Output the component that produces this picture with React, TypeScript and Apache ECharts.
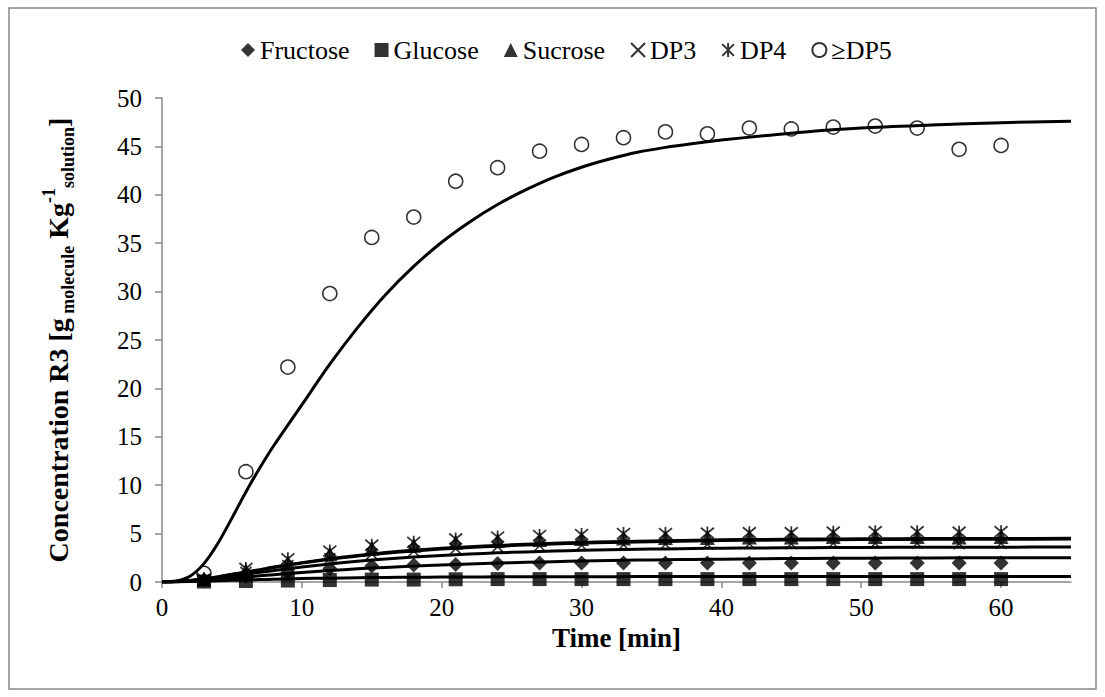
import React, { useEffect, useRef } from "react";
import * as echarts from "echarts";

// ---- Data ----
const timeMin = [3, 6, 9, 12, 15, 18, 21, 24, 27, 30, 33, 36, 39, 42, 45, 48, 51, 54, 57, 60];
const fructose = [0.2, 0.6, 1.0, 1.4, 1.65, 1.75, 1.8, 1.9, 1.95, 1.95, 1.95, 1.95, 1.95, 1.95, 1.95, 1.95, 1.95, 1.95, 1.95, 1.95];
const glucose = [0.05, 0.1, 0.15, 0.2, 0.25, 0.25, 0.28, 0.3, 0.3, 0.3, 0.3, 0.3, 0.3, 0.3, 0.3, 0.3, 0.3, 0.3, 0.3, 0.3];
const sucrose = [0.3, 1.2, 2.0, 2.9, 3.5, 3.8, 4.1, 4.3, 4.4, 4.5, 4.55, 4.6, 4.6, 4.65, 4.65, 4.7, 4.7, 4.7, 4.65, 4.7];
const dp3 = [0.2, 1.0, 1.7, 2.4, 2.9, 3.2, 3.45, 3.65, 3.75, 3.8, 3.85, 3.9, 3.9, 3.95, 3.95, 4.0, 4.0, 4.0, 3.95, 4.0];
const dp4 = [0.3, 1.4, 2.4, 3.2, 3.8, 4.1, 4.45, 4.65, 4.8, 4.9, 5.0, 5.0, 5.05, 5.1, 5.1, 5.15, 5.2, 5.2, 5.15, 5.2];
const dp5 = [0.9, 11.4, 22.2, 29.8, 35.6, 37.7, 41.4, 42.8, 44.5, 45.2, 45.9, 46.5, 46.3, 46.9, 46.8, 47.0, 47.1, 46.9, 44.7, 45.1];

const modelTime = [0, 1, 2, 3, 4, 5, 6, 7, 8, 10, 12, 14, 16, 18, 20, 22, 24, 26, 28, 30, 32, 34, 36, 38, 40, 43, 46, 50, 55, 60, 65];
const fructoseModel = [0, 0.02, 0.08, 0.17, 0.28, 0.4, 0.52, 0.64, 0.76, 0.98, 1.18, 1.36, 1.51, 1.64, 1.76, 1.86, 1.95, 2.03, 2.1, 2.16, 2.21, 2.26, 2.3, 2.33, 2.36, 2.4, 2.43, 2.46, 2.49, 2.5, 2.51];
const glucoseModel = [0, 0.01, 0.04, 0.08, 0.12, 0.17, 0.21, 0.25, 0.29, 0.35, 0.4, 0.44, 0.47, 0.49, 0.51, 0.52, 0.53, 0.54, 0.55, 0.55, 0.55, 0.56, 0.56, 0.56, 0.56, 0.56, 0.56, 0.56, 0.56, 0.56, 0.56];
const sucroseModel = [0, 0.04, 0.15, 0.32, 0.53, 0.77, 1.0, 1.25, 1.5, 1.95, 2.35, 2.68, 2.97, 3.2, 3.4, 3.56, 3.7, 3.82, 3.92, 4.01, 4.08, 4.14, 4.19, 4.24, 4.28, 4.32, 4.35, 4.38, 4.41, 4.42, 4.43];
const dp3Model = [0, 0.03, 0.12, 0.26, 0.43, 0.62, 0.81, 1.0, 1.19, 1.55, 1.87, 2.14, 2.38, 2.58, 2.75, 2.89, 3.01, 3.11, 3.2, 3.27, 3.33, 3.38, 3.42, 3.46, 3.49, 3.52, 3.55, 3.57, 3.59, 3.6, 3.61];
const dp4Model = [0, 0.04, 0.15, 0.33, 0.55, 0.79, 1.03, 1.28, 1.54, 2.0, 2.4, 2.74, 3.04, 3.28, 3.48, 3.64, 3.78, 3.9, 4.0, 4.09, 4.16, 4.22, 4.27, 4.32, 4.36, 4.4, 4.43, 4.46, 4.49, 4.5, 4.51];
const dp5Model = [0, 0.1, 0.6, 1.9, 4.0, 6.6, 9.3, 11.8, 14.1, 18.3, 22.5, 26.3, 29.7, 32.6, 35.1, 37.2, 39.0, 40.5, 41.8, 42.85, 43.7, 44.4, 44.9, 45.3, 45.65, 46.1, 46.5, 46.9, 47.2, 47.45, 47.6];

const xTicks = [0, 10, 20, 30, 40, 50, 60];

const SERIF = "Liberation Serif, Times New Roman, serif";
const X_PATH = "path://M0,0L10,10M10,0L0,10";
const STAR_PATH = "path://M0,0L10,10M10,0L0,10M5,-1L5,11";

const pairs = (xs: number[], ys: number[]) => xs.map((x, i) => [x, ys[i]]);

export default function App() {
  const ref = useRef<HTMLDivElement>(null);

  useEffect(() => {
    if (!ref.current) return;
    const chart = echarts.init(ref.current, undefined, { renderer: "svg" });

    const scatterDefs = [
      { name: "Fructose", data: fructose, symbol: "diamond", size: 15, style: { color: "#000" } },
      { name: "Glucose", data: glucose, symbol: "rect", size: 14, style: { color: "#000" } },
      { name: "Sucrose", data: sucrose, symbol: "triangle", size: 15, style: { color: "#000" } },
      { name: "DP3", data: dp3, symbol: X_PATH, size: 11, style: { color: "#000", borderColor: "#000", borderWidth: 1.6 } },
      { name: "DP4", data: dp4, symbol: STAR_PATH, size: 13, style: { color: "#000", borderColor: "#000", borderWidth: 1.8 } },
      { name: "\u2265DP5", data: dp5, symbol: "circle", size: 14, style: { color: "rgba(0,0,0,0)", borderColor: "#000", borderWidth: 1.6 } },
    ];
    const modelDefs = [
      { name: "Fructose model", data: fructoseModel },
      { name: "Glucose model", data: glucoseModel },
      { name: "Sucrose model", data: sucroseModel },
      { name: "DP3 model", data: dp3Model },
      { name: "DP4 model", data: dp4Model },
      { name: "DP5 model", data: dp5Model },
    ];

    const series: any[] = [
      ...modelDefs.map((m) => ({
        name: m.name,
        type: "line",
        data: pairs(modelTime, m.data),
        smooth: 0.3,
        showSymbol: false,
        symbol: "none",
        lineStyle: { color: "#000", width: 3 },
        z: 2,
        silent: true,
      })),
      ...scatterDefs.map((s) => ({
        name: s.name,
        type: "scatter",
        data: pairs(timeMin, s.data),
        symbol: s.symbol,
        symbolSize: s.size,
        itemStyle: s.style,
        z: 3,
      })),
    ];

    chart.setOption({
      animation: false,
      backgroundColor: "#fff",
      textStyle: { fontFamily: SERIF, color: "#000" },
      graphic: [
        {
          type: "rect",
          shape: { x: 9, y: 8, width: 1087, height: 681 },
          style: { fill: "none", stroke: "#888", lineWidth: 1.5 },
          silent: true,
        },
      ],
      legend: {
        data: scatterDefs.map((s) => s.name),
        left: 236,
        top: 32,
        itemWidth: 14,
        itemHeight: 14,
        itemGap: 25,
        textStyle: { fontFamily: SERIF, fontSize: 26, color: "#000" },
      },
      grid: { left: 162, top: 98, width: 909, height: 484, containLabel: false },
      xAxis: {
        type: "value",
        min: 0,
        max: 65,
        name: "Time [min]",
        nameLocation: "middle",
        nameGap: 40,
        nameTextStyle: { fontFamily: SERIF, fontSize: 27, fontWeight: "bold", color: "#000" },
        axisLine: { show: true, lineStyle: { color: "#888", width: 1.5 } },
        axisTick: { show: true, customValues: xTicks, length: 6, lineStyle: { color: "#888", width: 1.5 } },
        axisLabel: { customValues: xTicks, fontFamily: SERIF, fontSize: 25, color: "#000", margin: 13 },
        splitLine: { show: false },
      },
      yAxis: {
        type: "value",
        min: 0,
        max: 50,
        interval: 5,
        name:
          "{m|Concentration R3 [g}{sub| molecule}{m| Kg}{sup|-1}{sub|solution}{m|]}",
        nameLocation: "middle",
        nameGap: 85,
        nameRotate: 90,
        nameTextStyle: {
          fontFamily: SERIF,
          color: "#000",
          rich: {
            m: { fontFamily: SERIF, fontSize: 28, fontWeight: "bold", color: "#000", lineHeight: 37, verticalAlign: "middle" },
            sub: { fontFamily: SERIF, fontSize: 18, fontWeight: "bold", color: "#000", lineHeight: 18, verticalAlign: "bottom" },
            sup: { fontFamily: SERIF, fontSize: 18, fontWeight: "bold", color: "#000", lineHeight: 18, verticalAlign: "top" },
          },
        },
        axisLine: { show: true, lineStyle: { color: "#888", width: 1.5 } },
        axisTick: { show: true, length: 7, lineStyle: { color: "#888", width: 1.5 } },
        axisLabel: { fontFamily: SERIF, fontSize: 25, color: "#000", margin: 20 },
        splitLine: { show: false },
      },
      series,
    });

    return () => chart.dispose();
  }, []);

  return (
    <div
      ref={ref}
      style={{ position: "absolute", left: 0, top: 0, width: 1105, height: 697, background: "#fff" }}
    />
  );
}
